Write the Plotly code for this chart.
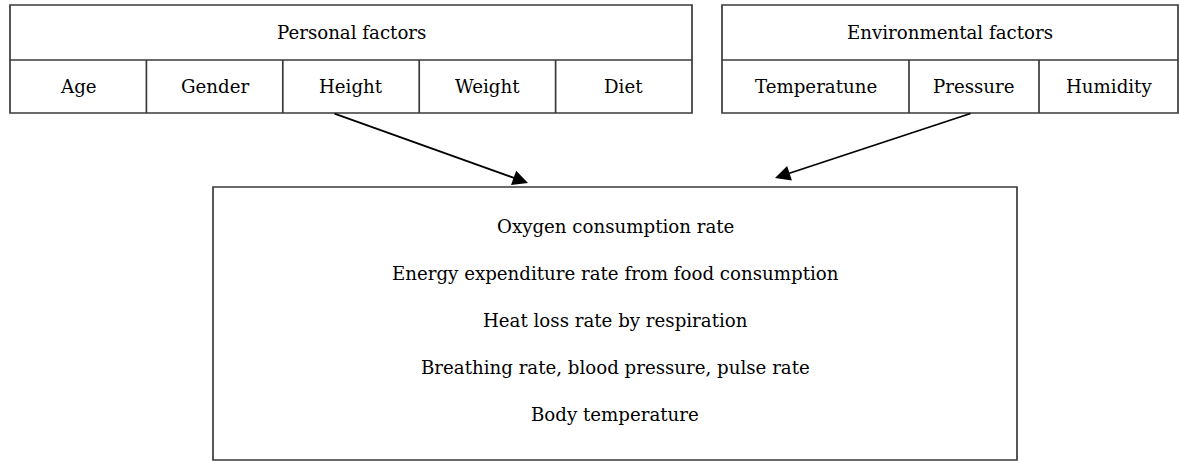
import plotly.graph_objects as go

# ---- data ----
personal_title = "Personal factors"
personal_items = ["Age", "Gender", "Height", "Weight", "Diet"]
env_title = "Environmental factors"
env_items = ["Temperatune", "Pressure", "Humidity"]
outcomes = [
    "Oxygen consumption rate",
    "Energy expenditure rate from food consumption",
    "Heat loss rate by respiration",
    "Breathing rate, blood pressure, pulse rate",
    "Body temperature",
]

# ---- layout constants ----
W, H = 1179, 461
FONT = "DejaVu Serif"
FS = 18.2
LC = "#3a3a3a"
LW = 1.7

top, mid, bot = 5, 60, 113
p_x0, p_x1 = 10, 692
e_edges = [722, 909, 1039, 1178]
main = dict(x0=213, y0=187, x1=1017, y1=460)

fig = go.Figure()
shapes = []
annotations = []

def rect(x0, y0, x1, y1):
    shapes.append(dict(type="rect", xref="x", yref="y", x0=x0, y0=y0, x1=x1, y1=y1,
                       line=dict(color=LC, width=LW), fillcolor="rgba(0,0,0,0)"))

def text(x, y, s):
    annotations.append(dict(x=x, y=y, xref="x", yref="y", text=s, showarrow=False,
                            font=dict(family=FONT, size=FS, color="#000"),
                            xanchor="center", yanchor="middle"))

# personal box
rect(p_x0, top, p_x1, bot)
shapes.append(dict(type="line", x0=p_x0, x1=p_x1, y0=mid, y1=mid, line=dict(color=LC, width=LW)))
text((p_x0 + p_x1) / 2, (top + mid) / 2, personal_title)
n = len(personal_items)
cw = (p_x1 - p_x0) / n
for i, lab in enumerate(personal_items):
    xa = p_x0 + i * cw
    if i > 0:
        shapes.append(dict(type="line", x0=xa, x1=xa, y0=mid, y1=bot, line=dict(color=LC, width=LW)))
    text(xa + cw / 2, (mid + bot) / 2, lab)

# environmental box
rect(e_edges[0], top, e_edges[-1], bot)
shapes.append(dict(type="line", x0=e_edges[0], x1=e_edges[-1], y0=mid, y1=mid, line=dict(color=LC, width=LW)))
text((e_edges[0] + e_edges[-1]) / 2, (top + mid) / 2, env_title)
for i, lab in enumerate(env_items):
    xa, xb = e_edges[i], e_edges[i + 1]
    if i > 0:
        shapes.append(dict(type="line", x0=xa, x1=xa, y0=mid, y1=bot, line=dict(color=LC, width=LW)))
    text((xa + xb) / 2, (mid + bot) / 2, lab)

# main box
rect(main["x0"], main["y0"], main["x1"], main["y1"])
cx = (main["x0"] + main["x1"]) / 2
for i, s in enumerate(outcomes):
    text(cx, 226 + i * 47, s)

# arrows
for (sx, sy, ex, ey) in [(333, 113, 528, 183), (972, 113, 775, 178)]:
    annotations.append(dict(x=ex, y=ey, ax=sx, ay=sy, xref="x", yref="y", axref="x", ayref="y",
                            text="", showarrow=True, arrowhead=2, arrowsize=1.7,
                            arrowwidth=1.8, arrowcolor="#000"))

fig.update_layout(
    width=W, height=H, margin=dict(l=0, r=0, t=0, b=0),
    paper_bgcolor="white", plot_bgcolor="white",
    xaxis=dict(range=[0, W], visible=False, fixedrange=True),
    yaxis=dict(range=[H, 0], visible=False, fixedrange=True),
    shapes=shapes, annotations=annotations, showlegend=False,
)
fig.write_html("out.html", config={"displayModeBar": False},
               post_script="document.body.style.margin='0px';document.body.style.overflow='hidden';")
